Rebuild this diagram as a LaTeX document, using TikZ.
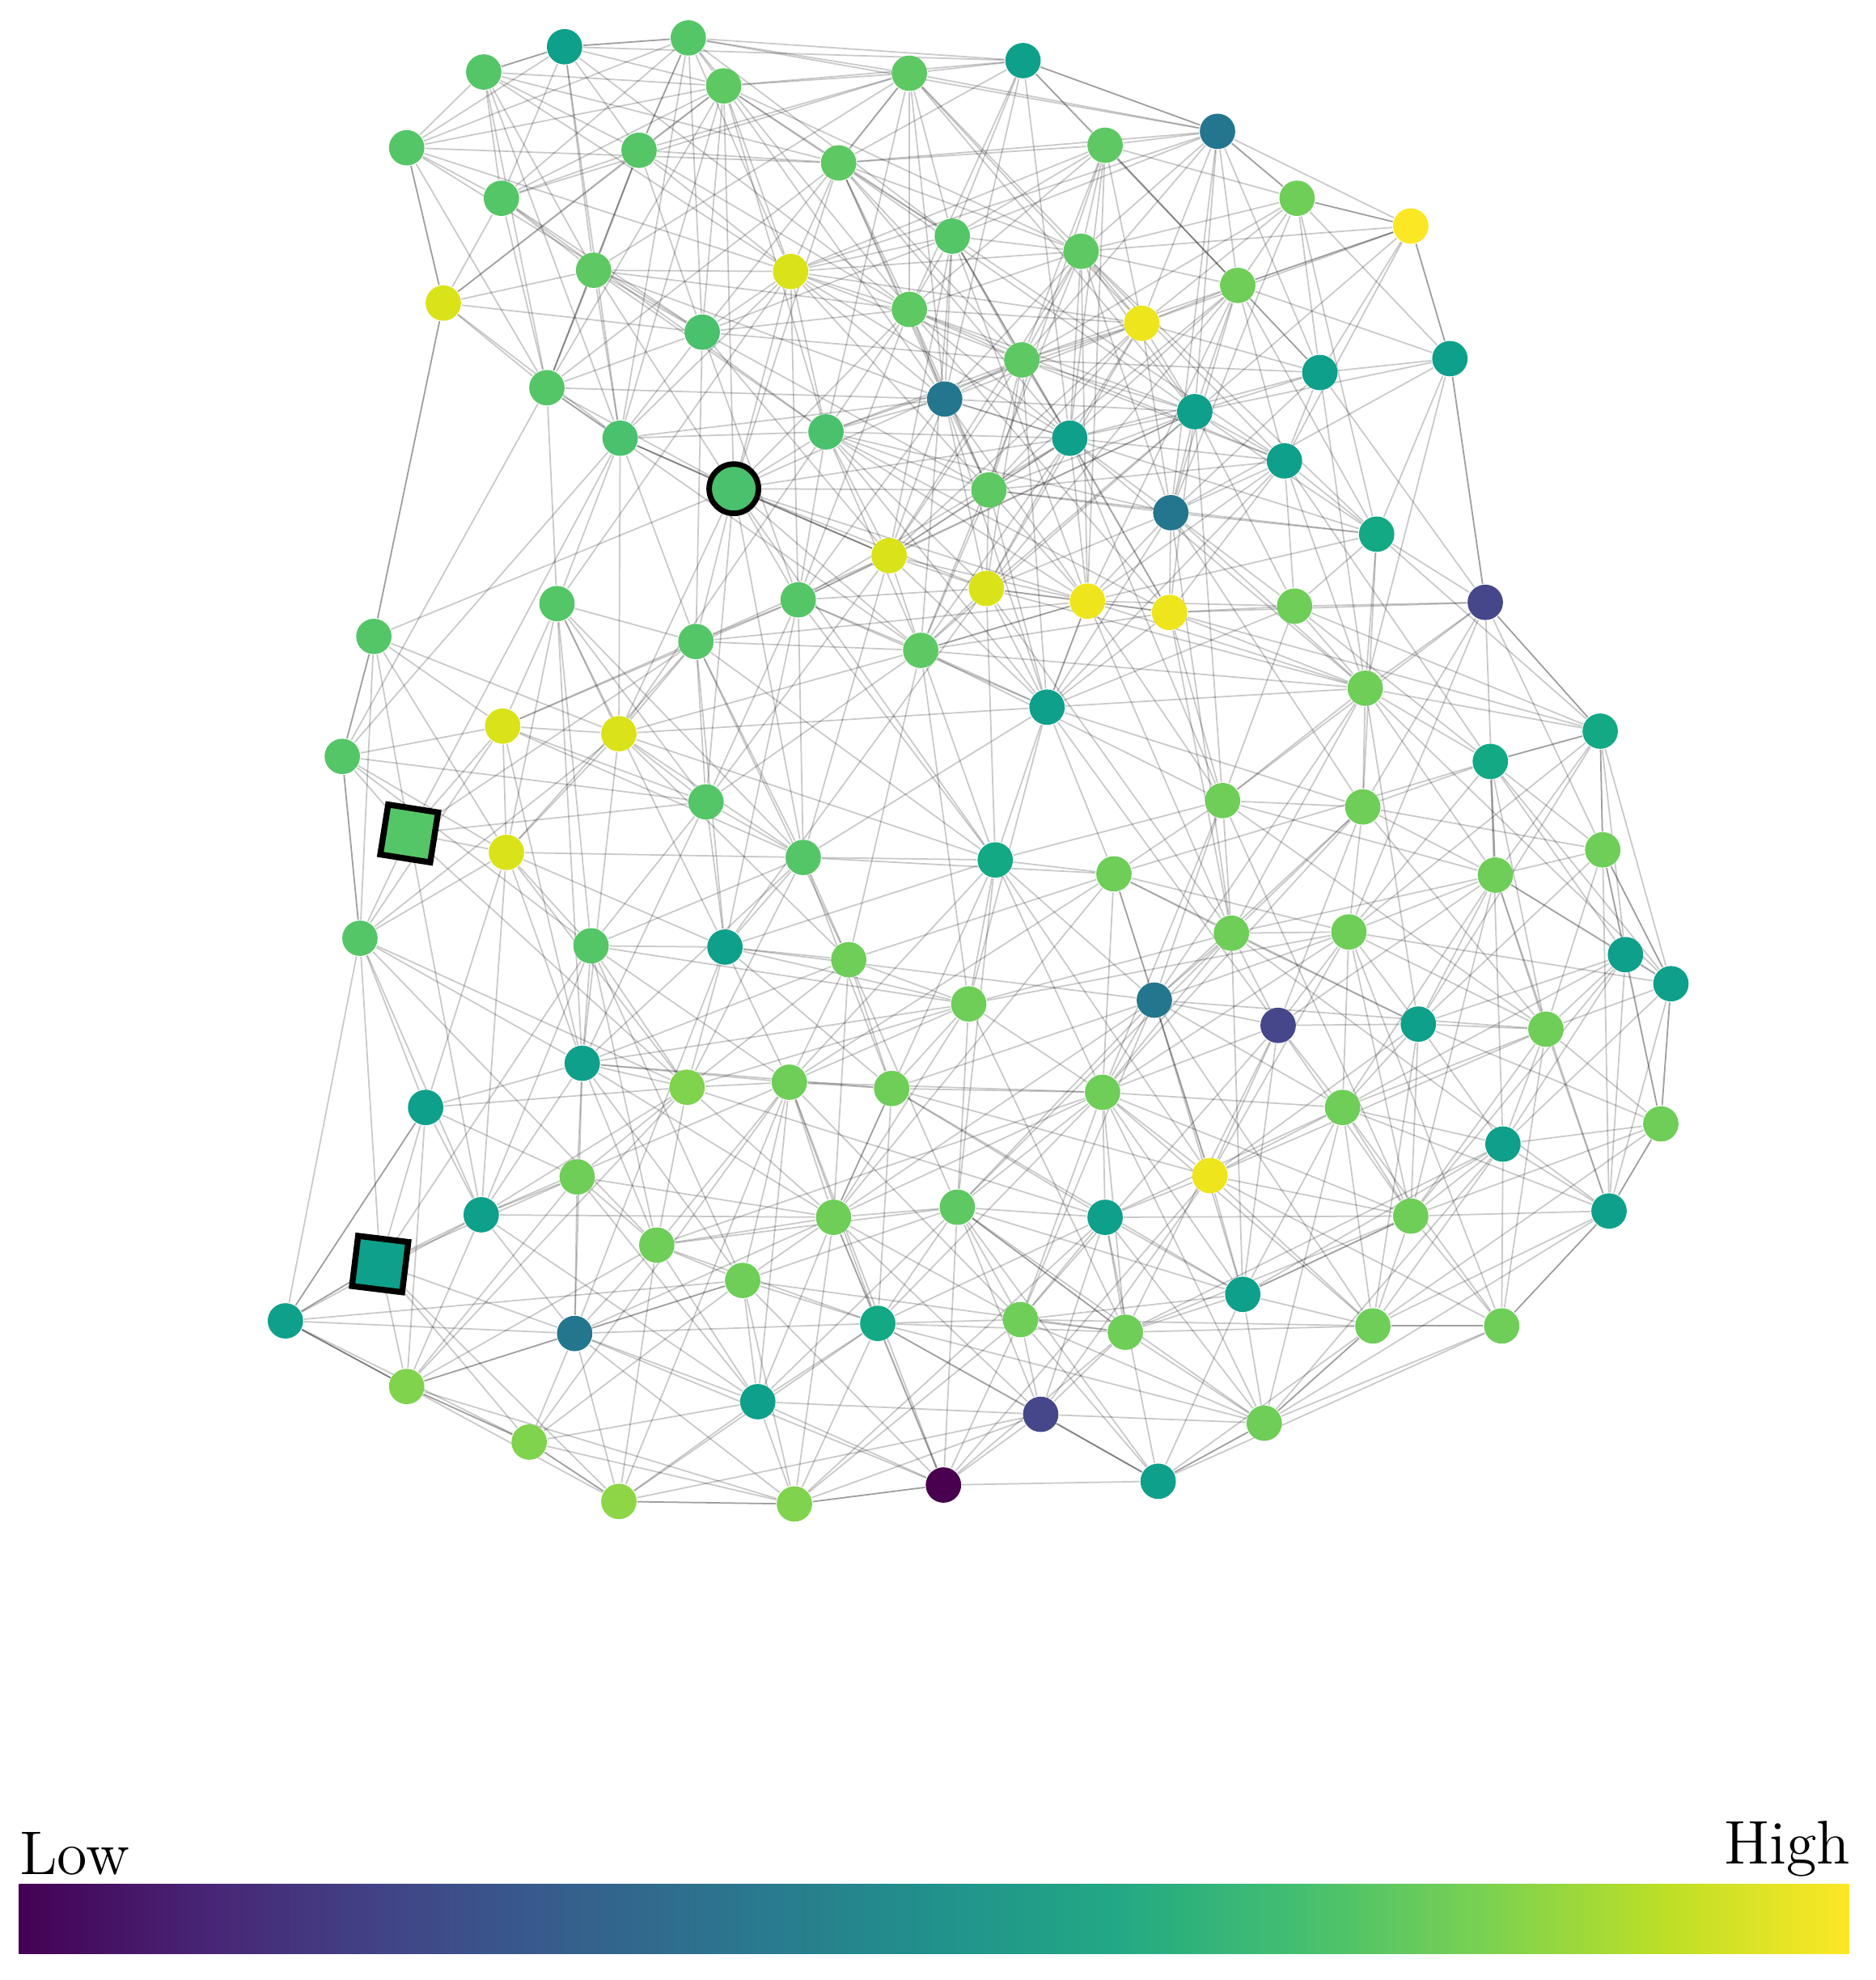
\documentclass[tikz,border=0pt]{standalone}
\usetikzlibrary{backgrounds}
\definecolor{Y1}{HTML}{FBE723}
\definecolor{Y2}{HTML}{EEE51C}
\definecolor{Y3}{HTML}{DAE319}
\definecolor{G0}{HTML}{4AC16D}
\definecolor{G1}{HTML}{55C667}
\definecolor{G2}{HTML}{5EC962}
\definecolor{LG}{HTML}{6ECE58}
\definecolor{LG2}{HTML}{80D34D}
\definecolor{LG3}{HTML}{8ED645}
\definecolor{T1}{HTML}{0EA08A}
\definecolor{T2}{HTML}{12A984}
\definecolor{DT}{HTML}{24768E}
\definecolor{P}{HTML}{46468A}
\definecolor{DP}{HTML}{48004F}
\definecolor{v0}{HTML}{440154}
\definecolor{v1}{HTML}{482475}
\definecolor{v2}{HTML}{414487}
\definecolor{v3}{HTML}{355F8D}
\definecolor{v4}{HTML}{2A788E}
\definecolor{v5}{HTML}{21918C}
\definecolor{v6}{HTML}{22A884}
\definecolor{v7}{HTML}{44BF70}
\definecolor{v8}{HTML}{7AD151}
\definecolor{v9}{HTML}{BDDF26}
\definecolor{v10}{HTML}{FDE725}
\pgfdeclarehorizontalshading{viridis}{100bp}{color(0bp)=(v0); color(25bp)=(v0); color(30bp)=(v1); color(35bp)=(v2); color(40bp)=(v3); color(45bp)=(v4); color(50bp)=(v5); color(55bp)=(v6); color(60bp)=(v7); color(65bp)=(v8); color(70bp)=(v9); color(75bp)=(v10); color(100bp)=(v10)}
\tikzset{
  nd/.style={circle, inner sep=0pt, minimum size=0.28cm, draw=none},
  bignd/.style={circle, inner sep=0pt, minimum size=0.39cm, draw=black, line width=1.25pt},
  sqnd/.style={rectangle, inner sep=0pt, minimum size=0.40cm, draw=black, line width=1.35pt},
  edge/.style={draw=black, opacity=0.21, line width=0.32pt},
  lbl/.style={inner sep=0pt, font=\fontsize{13.9}{16}\selectfont}
}
\newcommand{\storexy}[3]{\expandafter\xdef\csname nx#1\endcsname{#2}\expandafter\xdef\csname ny#1\endcsname{#3}}
\begin{document}
\begin{tikzpicture}[x=0.01cm, y=-0.01cm]
\useasboundingbox (0,0) rectangle (1485,1568);
\foreach \i/\x/\y/\c in {
1/383/57/G1, 2/447/37/T1, 3/545/30/G1, 4/573/68/G2, 5/720/58/G2, 6/810/48/T1,
7/322/117/G1, 8/506/119/G1, 9/397/157/G1, 10/664/129/G2, 11/875/115/G2, 12/964/104/DT,
13/1027/157/LG, 14/1117/179/Y1, 15/470/214/G2, 16/626/215/Y3, 17/754/187/G1, 18/856/199/G2,
19/980/226/LG, 20/351/240/Y3, 21/556/263/G0, 22/720/245/G2, 23/904/256/Y2, 24/809/285/G2,
25/1045/295/T1, 26/1148/284/T1, 27/433/307/G1, 28/748/316/DT, 29/946/326/T1, 30/491/347/G0,
31/654/342/G0, 32/847/347/T1, 33/1017/365/T1, 35/783/388/G2, 36/927/406/DT,
37/1090/423/T2, 38/704/440/Y3, 39/781/466/Y3, 40/861/476/Y2, 41/926/485/Y2, 42/1025/480/LG,
43/1176/477/P, 44/632/475/G1, 45/441/478/G1, 46/296/504/G1, 47/551/508/G1, 48/729/515/G2,
49/829/560/T1, 50/1081/545/LG, 51/398/575/Y3, 52/490/581/Y3, 53/271/599/G1, 54/1267/579/T2,
55/1180/603/T2, 56/559/635/G1, 57/968/634/LG, 58/1079/639/LG, 60/401/675/Y3,
61/636/679/G1, 62/788/681/T2, 63/882/692/LG, 64/1184/693/LG, 65/1269/673/LG, 66/285/743/G1,
67/468/749/G1, 68/574/750/T1, 69/672/760/LG, 70/975/739/LG, 71/1068/738/LG, 72/1287/756/T1,
73/1323/779/T1, 74/767/795/LG, 75/914/792/DT, 76/1012/812/P, 77/1123/811/T1, 78/1224/815/LG,
79/461/842/T1, 80/544/861/LG2, 81/625/857/LG, 82/706/862/LG, 83/873/865/LG, 84/337/877/T1,
85/1063/877/LG, 86/1315/890/LG, 87/1190/906/T1, 88/457/932/LG, 89/958/931/Y2, 90/381/962/T1,
91/660/964/LG, 92/758/956/G2, 93/875/964/T1, 94/1117/963/LG, 95/1274/959/T1, 96/520/986/LG,
98/588/1014/LG, 99/984/1025/T1, 100/226/1046/T1, 101/455/1056/DT, 102/695/1048/T2,
103/808/1045/LG, 104/891/1055/LG, 105/1087/1050/LG, 106/1189/1050/LG, 107/322/1098/LG2,
108/600/1110/T1, 109/824/1120/P, 110/419/1142/LG2, 111/1001/1127/LG, 112/747/1176/DP,
113/917/1173/T1, 114/490/1189/LG3, 115/629/1191/LG2}
{
  \node[nd, fill=\c] (n\i) at (\x,\y) {};
  \storexy{\i}{\x}{\y}
}
\node[bignd, fill=G0] (n34) at (581,387) {};
\storexy{34}{581}{387}
\node[sqnd, fill=G1, rotate=-9] (n59) at (324,660) {};
\storexy{59}{324}{660}
\node[sqnd, fill=T1, rotate=-7] (n97) at (301,1001) {};
\storexy{97}{301}{1001}
\begin{pgfonlayer}{background}
\pgfmathsetseed{11}
\foreach \i in {1,...,114} {
  \pgfmathtruncatemacro\js{\i+1}
  \foreach \j in {\js,...,115} {
    \edef\xa{\csname nx\i\endcsname}\edef\ya{\csname ny\i\endcsname}
    \edef\xb{\csname nx\j\endcsname}\edef\yb{\csname ny\j\endcsname}
    \pgfmathsetmacro\dd{veclen(\xa-\xb,\ya-\yb)}
    \pgfmathsetmacro\pp{max(0,min(1,(380-\dd)/280))}
    \pgfmathsetmacro\rr{rnd}
    \ifdim\rr pt<\pp pt \draw[edge] (n\i) -- (n\j); \fi
  }
}
\foreach \a/\b in {97/100, 100/107, 107/110, 110/114, 114/115, 115/112, 30/34, 34/38, 8/27, 3/8, 20/4,
  49/40, 48/52, 48/40, 63/55, 55/54, 99/94, 105/106, 92/104, 14/19, 12/14, 3/12, 14/26, 26/43, 43/54,
  102/112, 100/66, 100/84, 20/46, 53/66, 7/20, 46/53, 111/105, 111/95, 54/65, 65/73, 73/86, 86/95,
  95/106, 3/6, 6/12, 12/13, 13/14, 1/2, 2/3, 113/111, 109/113}
  \draw[edge] (n\a) -- (n\b);
\end{pgfonlayer}
\shade[shading=viridis] (15,1492) rectangle (1464,1547);
\node[lbl, anchor=base west] (low) at (14.7,1484.3) {Low};
\node[lbl, anchor=base east] (high) at (1465.7,1476) {High};
\end{tikzpicture}
\end{document}
